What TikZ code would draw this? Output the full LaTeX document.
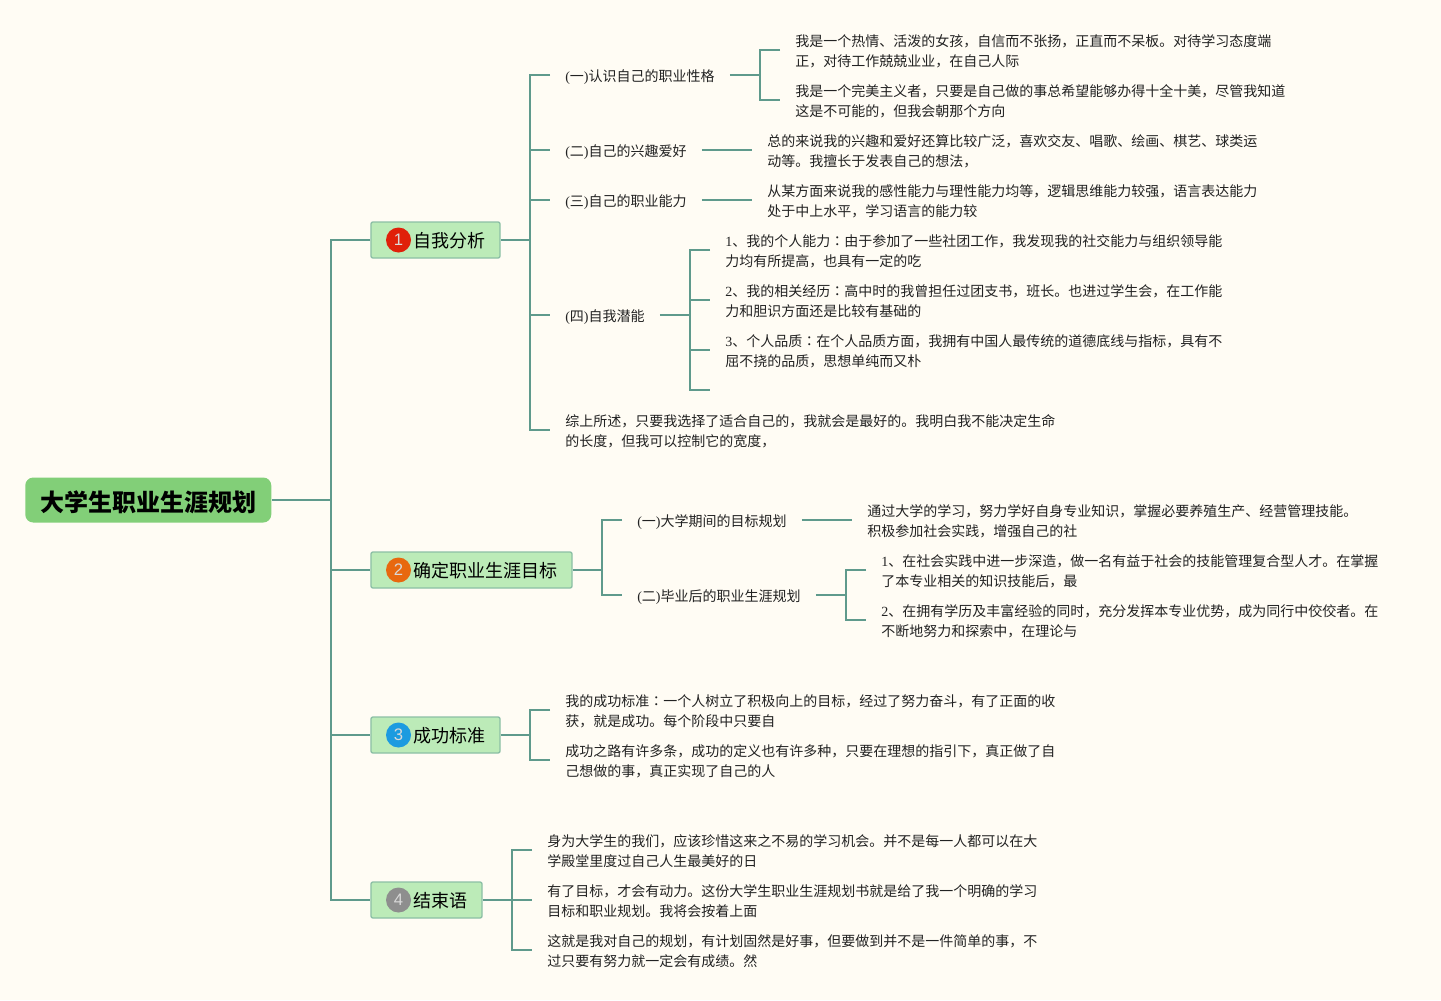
\documentclass[tikz,border=0pt]{standalone}
\usepackage{fontspec}
\setmainfont{Noto Sans CJK SC}
\newfontfamily\latinbadge{Liberation Sans}
\newfontfamily\ser{Liberation Serif}
\newfontfamily\tcf{Noto Sans CJK TC}
\newcommand{\tx}[2][2pt]{\raisebox{-#1}[\height][\depth]{\begin{tabular}{@{}l@{}}#2\end{tabular}}}
\newcommand{\cln}{{\tcf ：}}
\definecolor{paper}{HTML}{FFFCF4}
\definecolor{linkc}{HTML}{5F9A8C}
\definecolor{rootc}{HTML}{82CF78}
\definecolor{boxc}{HTML}{BCEBB8}
\definecolor{boxl}{HTML}{8CBFA5}
\definecolor{inkc}{HTML}{222222}
\definecolor{bred}{HTML}{E0200A}
\definecolor{borange}{HTML}{E8680F}
\definecolor{bblue}{HTML}{1C9BE0}
\definecolor{bgray}{HTML}{8E8E8E}
\tikzset{
  conn/.style={draw=linkc,line width=1.5pt,miter limit=10},
  rootbox/.style={fill=rootc,rounded corners=6pt,minimum width=184.5pt,minimum height=33.75pt,inner sep=0pt,font=\fontsize{18}{20}\selectfont\bfseries,text=black},
  lvlbox/.style={fill=boxc,draw=boxl,line width=1pt,rounded corners=1.5pt,minimum height=27pt,inner xsep=10.9pt,inner ysep=0pt,font=\fontsize{13.5}{16}\selectfont,text=black},
  badge/.style={circle,minimum size=18.75pt,inner sep=0pt,text=white!85!black,font=\latinbadge\fontsize{12.5}{14}\selectfont},
  para/.style={align=left,inner xsep=11.25pt,inner ysep=0pt,anchor=west,font=\fontsize{10.5}{15}\selectfont,text=inkc},
}
\begin{document}
\begin{tikzpicture}[x=0.75pt,y=-0.75pt]
\fill[paper] (0,0) rectangle (1441,1000);
\useasboundingbox (0,0) rectangle (1441,1000);
% root and level 1
\node[rootbox,anchor=west] (root) at (25,500) {\tx[3.7pt]{大学生职业生涯规划}};
\node[lvlbox,anchor=west] (b1) at (370.3,240) {\tx[2.6pt]{\hspace*{21pt}自我分析}};
\node[lvlbox,anchor=west] (b2) at (370.3,570) {\tx[2.6pt]{\hspace*{21pt}确定职业生涯目标}};
\node[lvlbox,anchor=west] (b3) at (370.3,735) {\tx[2.6pt]{\hspace*{21pt}成功标准}};
\node[lvlbox,anchor=west] (b4) at (370.3,900) {\tx[2.6pt]{\hspace*{21pt}结束语}};
\node[badge,fill=bred] (g1) at (398.5,240) {1};
\node[badge,fill=borange] (g2) at (398.5,570) {2};
\node[badge,fill=bblue] (g3) at (398.5,735) {3};
\node[badge,fill=bgray] (g4) at (398.5,900) {4};
% branch 1
\node[para] (a1) at (550,75) {\tx{{\ser(}一{\ser)}认识自己的职业性格}};
\node[para] (a2) at (550,150) {\tx{{\ser(}二{\ser)}自己的兴趣爱好}};
\node[para] (a3) at (550,200) {\tx{{\ser(}三{\ser)}自己的职业能力}};
\node[para] (a4) at (550,315) {\tx{{\ser(}四{\ser)}自我潜能}};
\node[para] (a5) at (550,430) {\tx{综上所述，只要我选择了适合自己的，我就会是最好的。我明白我不能决定生命\\的长度，但我可以控制它的宽度，}};
\node[para] (a11) at (780,50) {\tx{我是一个热情、活泼的女孩，自信而不张扬，正直而不呆板。对待学习态度端\\正，对待工作兢兢业业，在自己人际}};
\node[para] (a12) at (780,100) {\tx{我是一个完美主义者，只要是自己做的事总希望能够办得十全十美，尽管我知道\\这是不可能的，但我会朝那个方向}};
\node[para] (a21) at (752,150) {\tx{总的来说我的兴趣和爱好还算比较广泛，喜欢交友、唱歌、绘画、棋艺、球类运\\动等。我擅长于发表自己的想法，}};
\node[para] (a31) at (752,200) {\tx{从某方面来说我的感性能力与理性能力均等，逻辑思维能力较强，语言表达能力\\处于中上水平，学习语言的能力较}};
\node[para] (a41) at (710,250) {\tx{{\ser 1}、我的个人能力\cln 由于参加了一些社团工作，我发现我的社交能力与组织领导能\\力均有所提高，也具有一定的吃}};
\node[para] (a42) at (710,300) {\tx{{\ser 2}、我的相关经历\cln 高中时的我曾担任过团支书，班长。也进过学生会，在工作能\\力和胆识方面还是比较有基础的}};
\node[para] (a43) at (710,350) {\tx{{\ser 3}、个人品质\cln 在个人品质方面，我拥有中国人最传统的道德底线与指标，具有不\\屈不挠的品质，思想单纯而又朴}};
\coordinate (a44) at (710,390);
% branch 2
\node[para] (c1) at (622,520) {\tx{{\ser(}一{\ser)}大学期间的目标规划}};
\node[para] (c2) at (622,595) {\tx{{\ser(}二{\ser)}毕业后的职业生涯规划}};
\node[para] (c11) at (852,520) {\tx{通过大学的学习，努力学好自身专业知识，掌握必要养殖生产、经营管理技能。\\积极参加社会实践，增强自己的社}};
\node[para] (c21) at (866,570) {\tx{{\ser 1}、在社会实践中进一步深造，做一名有益于社会的技能管理复合型人才。在掌握\\了本专业相关的知识技能后，最}};
\node[para] (c22) at (866,620) {\tx{{\ser 2}、在拥有学历及丰富经验的同时，充分发挥本专业优势，成为同行中佼佼者。在\\不断地努力和探索中，在理论与}};
% branch 3
\node[para] (d1) at (550,710) {\tx{我的成功标准\cln 一个人树立了积极向上的目标，经过了努力奋斗，有了正面的收\\获，就是成功。每个阶段中只要自}};
\node[para] (d2) at (550,760) {\tx{成功之路有许多条，成功的定义也有许多种，只要在理想的指引下，真正做了自\\己想做的事，真正实现了自己的人}};
% branch 4
\node[para] (e1) at (532,850) {\tx{身为大学生的我们，应该珍惜这来之不易的学习机会。并不是每一人都可以在大\\学殿堂里度过自己人生最美好的日}};
\node[para] (e2) at (532,900) {\tx{有了目标，才会有动力。这份大学生职业生涯规划书就是给了我一个明确的学习\\目标和职业规划。我将会按着上面}};
\node[para] (e3) at (532,950) {\tx{这就是我对自己的规划，有计划固然是好事，但要做到并不是一件简单的事，不\\过只要有努力就一定会有成绩。然}};
% trunks
\coordinate (t0) at (331,500);
\coordinate (t1) at (530,240);
\coordinate (t11) at (760,75);
\coordinate (t14) at (690,315);
\coordinate (t2) at (602,570);
\coordinate (t22) at (846,595);
\coordinate (t3) at (530,735);
\coordinate (t4) at (512,900);
% connectors
\draw[conn] (root.east) -- (t0);
\draw[conn] (b1.west) -- (b1.west -| t0) -- (b4.west -| t0) -- (b4.west);
\draw[conn] (b2.west -| t0) -- (b2.west);
\draw[conn] (b3.west -| t0) -- (b3.west);
\draw[conn] (b1.east) -- (t1);
\draw[conn] (a1.west) -- (a1.west -| t1) -- (a5.west -| t1) -- (a5.west);
\draw[conn] (a2.west -| t1) -- (a2.west);
\draw[conn] (a3.west -| t1) -- (a3.west);
\draw[conn] (a4.west -| t1) -- (a4.west);
\draw[conn] (a1.east) -- (t11);
\draw[conn] (a11.west) -- (a11.west -| t11) -- (a12.west -| t11) -- (a12.west);
\draw[conn] (a2.east) -- (a21.west);
\draw[conn] (a3.east) -- (a31.west);
\draw[conn] (a4.east) -- (t14);
\draw[conn] (a41.west) -- (a41.west -| t14) -- (a44 -| t14) -- (a44);
\draw[conn] (a42.west -| t14) -- (a42.west);
\draw[conn] (a43.west -| t14) -- (a43.west);
\draw[conn] (b2.east) -- (t2);
\draw[conn] (c1.west) -- (c1.west -| t2) -- (c2.west -| t2) -- (c2.west);
\draw[conn] (c1.east) -- (c11.west);
\draw[conn] (c2.east) -- (t22);
\draw[conn] (c21.west) -- (c21.west -| t22) -- (c22.west -| t22) -- (c22.west);
\draw[conn] (b3.east) -- (t3);
\draw[conn] (d1.west) -- (d1.west -| t3) -- (d2.west -| t3) -- (d2.west);
\draw[conn] (b4.east) -- (t4);
\draw[conn] (e1.west) -- (e1.west -| t4) -- (e3.west -| t4) -- (e3.west);
\draw[conn] (e2.west -| t4) -- (e2.west);
\end{tikzpicture}
\end{document}
